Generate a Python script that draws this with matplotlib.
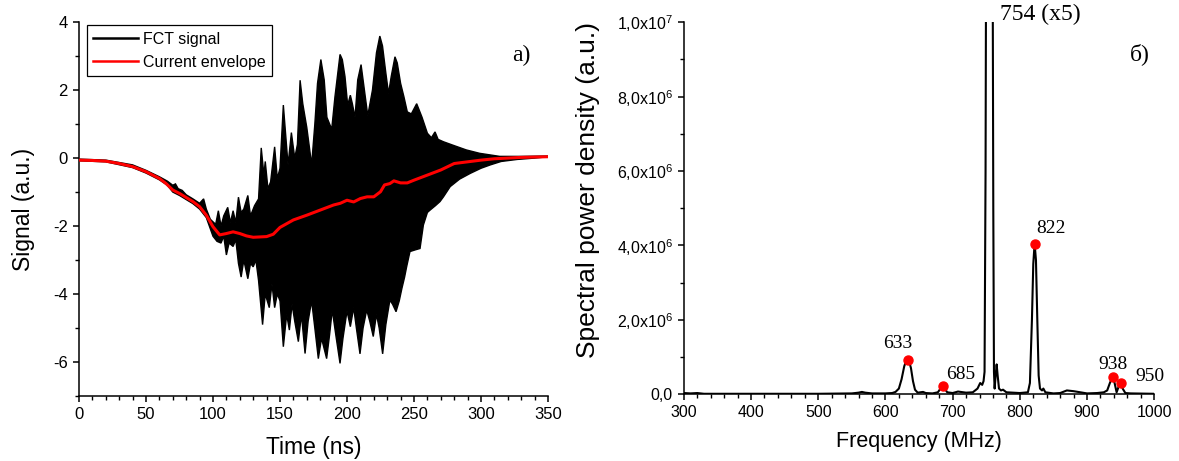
import numpy as np
import matplotlib
matplotlib.use("Agg")
import matplotlib.pyplot as plt
from matplotlib.lines import Line2D
from matplotlib.ticker import MultipleLocator, FixedLocator

plt.rcParams['font.family'] = ['Liberation Sans', 'DejaVu Sans']
plt.rcParams['mathtext.fontset'] = 'custom'
plt.rcParams['mathtext.rm'] = 'Liberation Sans'
plt.rcParams['axes.unicode_minus'] = False

# --- a) FCT signal: upper / lower extremes of the oscillation
t_up = [0, 20, 40, 50, 60, 66, 70, 72, 74, 77, 80, 85, 90, 93, 95, 98, 102, 104, 106, 108,
        111, 113, 115, 117, 119, 121, 123, 126, 128, 131, 134, 136, 138, 139, 141, 143, 146,
        148, 150, 152.5, 156, 158.5, 161, 163, 165, 167, 170, 172, 173.6, 176, 178, 180.5,
        183, 185, 188.6, 191, 194.8, 196.5, 198.5, 200.5, 202.5, 204, 206, 208, 210.5, 213,
        215.5, 219, 222, 224.5, 226.5, 229, 231, 233, 235.8, 237.5, 240, 242.5, 245, 248,
        250, 252, 254, 256, 260, 263, 265.7, 268, 272, 279, 289, 299, 314, 330, 350]
v_up = [-0.03, -0.06, -0.2, -0.36, -0.55, -0.68, -0.8, -0.76, -0.9, -0.95, -1.08, -1.2, -1.33,
        -1.2, -1.5, -1.8, -1.95, -1.55, -2.0, -1.7, -1.45, -1.9, -1.55, -1.9, -1.15, -1.6,
        -1.5, -1.1, -1.7, -1.4, -1.2, 0.3, -0.5, -0.1, -0.9, -0.7, 0.33, -0.6, -0.3, 1.56,
        -0.2, 0.75, 0.0, 0.4, 2.29, 1.6, 0.9, 0.3, -0.2, 1.0, 2.2, 2.9, 2.3, 1.2, 0.85, 1.8,
        3.05, 2.9, 2.4, 1.56, 1.85, 1.6, 1.2, 2.3, 2.75, 2.0, 1.25, 2.0, 3.1, 3.59, 3.3, 2.5,
        1.9, 2.4, 2.98, 2.8, 2.2, 1.8, 1.36, 1.3, 1.45, 1.6, 1.4, 1.2, 0.73, 0.6, 0.77, 0.55,
        0.48, 0.38, 0.24, 0.14, 0.05, 0.05, 0.06]
t_lo = [0, 20, 40, 50, 60, 66, 70, 75, 80, 85, 90, 95, 100, 103, 106, 108, 110, 112, 115, 117,
        119, 121, 123, 126, 128, 130, 132, 134, 137, 139, 142, 144, 146, 148, 150, 152.5, 155,
        157, 159, 161, 163.7, 166, 168.7, 171, 173.6, 176, 178.6, 181, 184.8, 187, 189, 192,
        194.8, 197, 200, 202.5, 205, 207, 209.7, 212, 214.7, 217, 219.6, 222, 224, 226.6, 229,
        232, 234, 236.6, 239, 241, 243, 244.5, 247, 251, 254.5, 257, 260, 262, 266, 269.4,
        272, 277, 284, 292, 300, 307, 315, 327, 340, 350]
v_lo = [-0.08, -0.11, -0.28, -0.44, -0.64, -0.8, -1.0, -1.1, -1.22, -1.34, -1.5, -1.75, -2.3,
        -2.45, -2.5, -2.3, -2.85, -2.5, -2.6, -2.4, -3.1, -3.5, -3.0, -3.55, -3.1, -3.2, -3.0,
        -3.6, -4.9, -4.0, -4.4, -3.7, -4.4, -4.0, -4.2, -5.55, -4.6, -5.06, -4.3, -4.8, -5.4,
        -4.6, -5.75, -4.8, -4.2, -5.0, -5.9, -5.3, -5.9, -5.2, -4.47, -5.3, -6.04, -5.3, -4.5,
        -4.96, -4.4, -5.0, -5.76, -5.0, -4.47, -4.8, -5.25, -4.6, -5.0, -5.76, -4.9, -4.18,
        -4.3, -4.52, -4.2, -3.83, -3.5, -3.2, -2.75, -2.7, -2.66, -1.97, -1.6, -1.53, -1.4,
        -1.28, -1.14, -0.84, -0.62, -0.45, -0.3, -0.2, -0.1, -0.04, 0.0, 0.04]

# current envelope (red)
t_env = [0, 10, 20, 30, 40, 50, 60, 65, 70, 75, 80, 85, 90, 95, 100, 105, 110, 115, 120, 125,
         130, 140, 145, 150, 160, 170, 180, 190, 195, 200, 205, 210, 215, 220, 225, 228, 232,
         235, 240, 245, 250, 260, 270, 280, 290, 300, 310, 320, 330, 340, 350]
v_env = [-0.06, -0.07, -0.09, -0.16, -0.25, -0.4, -0.6, -0.75, -0.94, -1.04, -1.16, -1.28,
         -1.43, -1.68, -2.02, -2.26, -2.22, -2.17, -2.22, -2.29, -2.33, -2.31, -2.24, -2.04,
         -1.82, -1.68, -1.53, -1.38, -1.33, -1.24, -1.29, -1.19, -1.14, -1.14, -0.99, -0.79,
         -0.75, -0.67, -0.73, -0.73, -0.65, -0.5, -0.35, -0.16, -0.11, -0.06, -0.02, 0.0,
         0.02, 0.03, 0.04]

# --- б) spectrum (values in units of 1e6)
freq = [300, 310, 320, 330, 400, 500, 550, 560, 565, 570, 580, 600, 610, 615, 620, 624, 628,
        631, 633, 635, 638, 641, 644, 648, 652, 656, 660, 670, 678, 682, 685, 688, 692, 700,
        708, 712, 720, 730, 737, 741, 744, 746, 747.5, 749, 749.8, 754, 759.5, 760.5, 761.5,
        762.5, 764, 765.5, 767, 769, 772, 775, 780, 800, 812, 815, 818, 820, 822, 824, 826,
        828, 830, 833, 835, 838, 850, 860, 870, 880, 890, 900, 915, 925, 930, 934, 938, 941,
        944, 947, 950, 953, 957, 965, 1000]
spd = [0.03, 0.02, 0.03, 0.01, 0.01, 0.01, 0.02, 0.04, 0.06, 0.04, 0.02, 0.02, 0.03, 0.06,
       0.15, 0.4, 0.75, 0.9, 0.93, 0.9, 0.7, 0.35, 0.12, 0.04, 0.05, 0.06, 0.03, 0.02, 0.05,
       0.15, 0.22, 0.15, 0.05, 0.03, 0.07, 0.06, 0.04, 0.05, 0.15, 0.3, 0.25, 0.35, 0.6, 6.0,
       12.0, 25.0, 12.0, 5.0, 0.6, 0.15, 0.5, 0.8, 0.5, 0.15, 0.1, 0.12, 0.05, 0.03, 0.05,
       0.3, 2.0, 3.5, 4.05, 3.6, 2.0, 0.5, 0.15, 0.1, 0.15, 0.05, 0.02, 0.03, 0.1, 0.08, 0.05,
       0.02, 0.03, 0.05, 0.1, 0.3, 0.46, 0.3, 0.05, 0.2, 0.3, 0.15, 0.03, 0.02, 0.01]

peak_f = [633, 685, 822, 938, 950]
peak_v = [0.93, 0.22, 4.04, 0.46, 0.30]
peak_lbl = ['633', '685', '822', '938', '950']
lbl_xy = [(618, 1.37), (712, 0.54), (824, 4.45), (939, 0.80), (994, 0.48)]
lbl_ha = ['center', 'center', 'left', 'center', 'center']

fig = plt.figure(figsize=(11.79, 4.61), dpi=100)
ax1 = fig.add_axes([0.067, 0.141, 0.3978, 0.811])
ax2 = fig.add_axes([0.580, 0.145, 0.399, 0.807])

for ax in (ax1, ax2):
    for s in ('top', 'right'):
        ax.spines[s].set_visible(False)
    for s in ('left', 'bottom'):
        ax.spines[s].set_linewidth(1.1)
    ax.tick_params(which='major', direction='out', length=4.5, width=1.1)
    ax.tick_params(which='minor', direction='out', length=2.8, width=1.0)

# left panel
xs = np.concatenate([t_up, t_lo[::-1]])
ys = np.concatenate([v_up, v_lo[::-1]])
ax1.fill(xs, ys, color='black', lw=1.0, zorder=2)
ax1.plot(t_env, v_env, color='red', lw=2.2, zorder=3)
ax1.set_xlim(0, 350)
ax1.set_ylim(-7, 4)
ax1.xaxis.set_major_locator(MultipleLocator(50))
ax1.xaxis.set_minor_locator(MultipleLocator(10))
ax1.yaxis.set_major_locator(MultipleLocator(2))
ax1.yaxis.set_minor_locator(MultipleLocator(1))
ax1.tick_params(labelsize=12)
ax1.set_xlabel('Time (ns)', fontsize=16.5, labelpad=10)
ax1.set_ylabel('Signal (a.u.)', fontsize=16.5, labelpad=13)
ax1.text(330, 3.03, 'a)', fontsize=17, family='Liberation Serif', ha='center', va='center')
handles = [Line2D([], [], color='black', lw=1.8), Line2D([], [], color='red', lw=1.8)]
leg = ax1.legend(handles, ['FCT signal', 'Current envelope'], loc='upper left',
                 bbox_to_anchor=(0.01, 1.0), fontsize=11.5, fancybox=False, framealpha=1,
                 edgecolor='black', handlelength=2.8, handletextpad=0.3, borderpad=0.4,
                 labelspacing=0.5, borderaxespad=0.2)
leg.get_frame().set_linewidth(0.9)

# right panel
ax2.plot(freq, np.array(spd) * 1e6, color='black', lw=1.5, zorder=2)
ax2.plot(peak_f, np.array(peak_v) * 1e6, 'o', color='red', ms=6.5, zorder=3)
for lbl, (lx, ly), ha in zip(peak_lbl, lbl_xy, lbl_ha):
    ax2.text(lx, ly * 1e6, lbl, fontsize=14, family='Liberation Serif', ha=ha, va='center')
ax2.text(770, 10.2e6, '754 (x5)', fontsize=17, family='Liberation Serif', ha='left',
         va='center', clip_on=False)
ax2.text(979, 9.14e6, 'б)', fontsize=17, family='Liberation Serif', ha='center', va='center')
ax2.set_xlim(300, 1000)
ax2.set_ylim(0, 1e7)
ax2.xaxis.set_major_locator(MultipleLocator(100))
ax2.xaxis.set_minor_locator(MultipleLocator(20))
ax2.yaxis.set_major_locator(FixedLocator([0, 2e6, 4e6, 6e6, 8e6, 1e7]))
ax2.yaxis.set_minor_locator(MultipleLocator(1e6))
ax2.set_yticklabels(['0,0', r'2,0x10$^{6}$', r'4,0x10$^{6}$', r'6,0x10$^{6}$',
                     r'8,0x10$^{6}$', r'1,0x10$^{7}$'])
ax2.tick_params(axis='x', labelsize=11.5)
ax2.tick_params(axis='y', labelsize=11.5)
ax2.set_xlabel('Frequency (MHz)', fontsize=15.5, labelpad=8)
ax2.set_ylabel('Spectral power density (a.u.)', fontsize=19)
ax2.yaxis.set_label_coords(-0.178, 0.548)

fig.savefig('out.png', dpi=100)
